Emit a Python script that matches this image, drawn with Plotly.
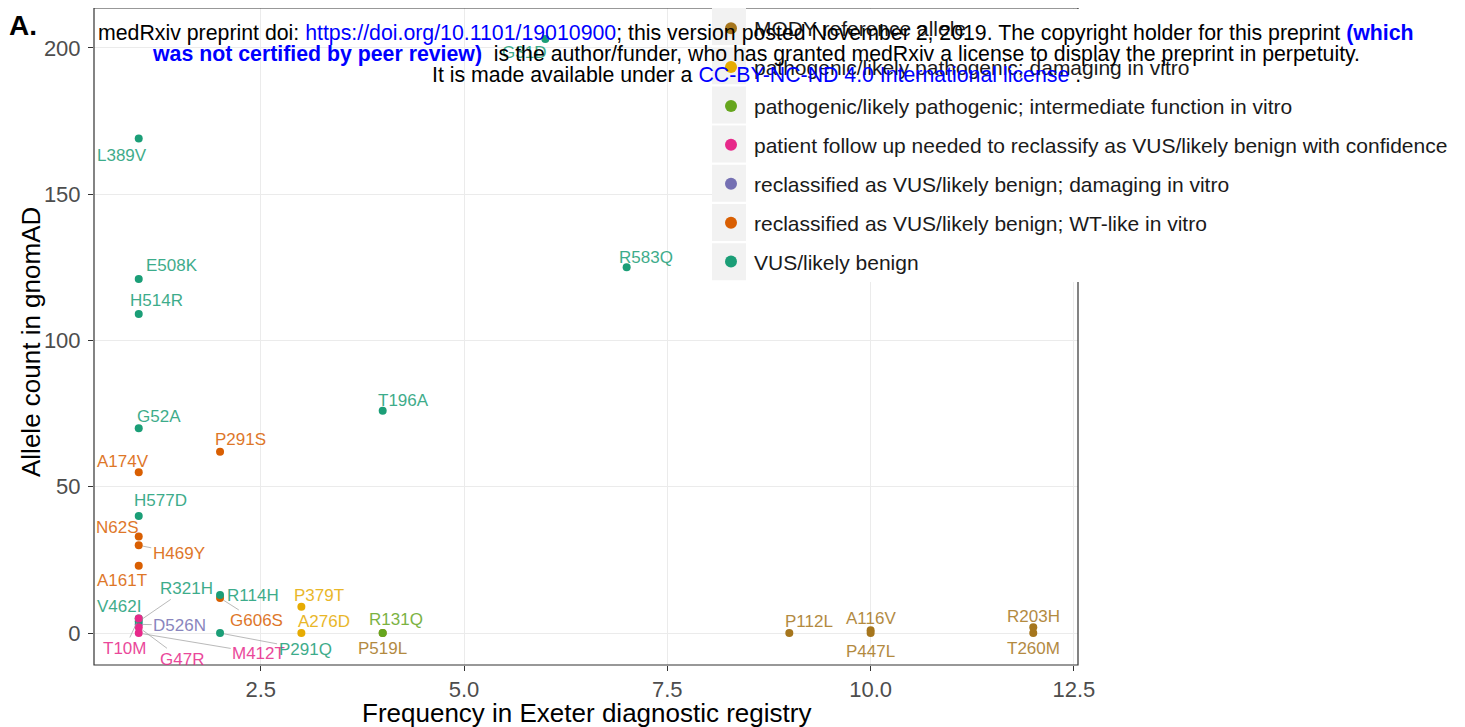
import plotly.graph_objects as go

# ---------------- data ----------------
variants = ["L389V", "E508K", "H514R", "G52A", "A174V", "P291S", "T196A", "R583Q", "G31D",
            "H577D", "N62S", "H469Y", "A161T", "R321H", "V462I", "D526N", "T10M", "G47R",
            "M412T", "P291Q", "G606S", "R114H", "P379T", "A276D", "R131Q", "P519L",
            "P112L", "A116V", "P447L", "R203H", "T260M"]
registry_freq = [1, 1, 1, 1, 1, 2, 4, 7, 6,
                 1, 1, 1, 1, 1, 1, 1, 1, 1,
                 1, 2, 2, 2, 3, 3, 4, 4,
                 9, 10, 10, 12, 12]
gnomad_count = [169, 121, 109, 70, 55, 62, 76, 125, 203,
                40, 33, 30, 23, 4, 5, 3, 5, 2,
                0, 0, 12, 13, 9, 0, 0, 0,
                0, 1, 0, 2, 0]
category = ["VUS", "VUS", "VUS", "VUS", "WT", "WT", "VUS", "VUS", "VUS",
            "VUS", "WT", "WT", "WT", "VUS", "VUS", "RDMG", "PFU", "PFU",
            "PFU", "VUS", "WT", "VUS", "DMG", "DMG", "INT", "MODY",
            "MODY", "MODY", "MODY", "MODY", "MODY"]

category_keys = ["MODY", "DMG", "INT", "PFU", "RDMG", "WT", "VUS"]
category_names = ["MODY reference allele",
                  "pathogenic/likely pathogenic; damaging in vitro",
                  "pathogenic/likely pathogenic; intermediate function in vitro",
                  "patient follow up needed to reclassify as VUS/likely benign with confidence",
                  "reclassified as VUS/likely benign; damaging in vitro",
                  "reclassified as VUS/likely benign; WT-like in vitro",
                  "VUS/likely benign"]

x_ticks = [2.5, 5.0, 7.5, 10.0, 12.5]
x_tick_labels = ["2.5", "5.0", "7.5", "10.0", "12.5"]
y_ticks = [0, 50, 100, 150, 200]

# ---------------- styles ----------------
colors = {"MODY": "#A6761D", "DMG": "#E6AB02", "INT": "#66A61E", "PFU": "#E7298A",
          "RDMG": "#7570B3", "WT": "#D95F02", "VUS": "#1B9E77"}
draw_order = ["MODY", "DMG", "INT", "RDMG", "WT", "VUS", "PFU"]

# label offsets in screen pixels (dx right, dy down) and whether a segment is drawn
label_offsets = {
    "L389V": (-17, 17, False), "E508K": (33, -13, False), "H514R": (18, -14, False),
    "G52A": (20, -12, False), "A174V": (-16, -11, False), "P291S": (20, -12, False),
    "T196A": (21, -10, False), "R583Q": (19, -10, False), "G31D": (-21, 13, False),
    "H577D": (22, -16, False), "N62S": (-21, -9, False), "H469Y": (40, 8, True),
    "A161T": (-17, 15, False), "R321H": (48, -33, True), "V462I": (-20, -12, False),
    "D526N": (41, 1, True), "T10M": (-14, 30, True), "G47R": (43, 32, True),
    "M412T": (120, 20, True), "P291Q": (85, 16, True), "G606S": (36, 23, True),
    "R114H": (33, 0, False), "P379T": (18, -11, False), "A276D": (23, -12, False),
    "R131Q": (13, -14, False), "P519L": (0, 15, False), "P112L": (20, -12, False),
    "A116V": (0, -12, False), "P447L": (0, 18, False), "R203H": (0, -11, False),
    "T260M": (0, 15, False),
}

FONT = "Liberation Sans, Arial, sans-serif"
OFF = 8                       # page body margin of the written html
FIG_W, FIG_H = 1465 - OFF, 727 - OFF
L_PAGE, T_PAGE, W, H = 94, 8, 984, 657   # panel box in page pixels
L, T = L_PAGE - OFF, T_PAGE - OFF


def px(xp):
    return (xp - OFF - L) / W


def py(yp):
    return 1 - (yp - OFF - T) / H


fig = go.Figure()

for key in draw_order:
    idx = [i for i, c in enumerate(category) if c == key]
    fig.add_trace(go.Scatter(
        x=[registry_freq[i] for i in idx],
        y=[gnomad_count[i] for i in idx],
        mode="markers",
        name=category_names[category_keys.index(key)],
        legendrank=category_keys.index(key) + 1,
        legendgroup=key,
        marker=dict(color=colors[key], size=8),
        hoverinfo="text",
        text=[variants[i] for i in idx],
    ))

annotations = []
for v, xv, yv, c in zip(variants, registry_freq, gnomad_count, category):
    dx, dy, seg = label_offsets[v]
    base = dict(x=xv, y=yv, xref="x", yref="y", text=v,
                font=dict(family=FONT, size=17, color=colors[c]), opacity=0.85)
    if seg:
        base.update(showarrow=True, ax=dx, ay=dy, arrowhead=0, arrowwidth=0.8,
                    arrowcolor="#999999", standoff=4)
    else:
        base.update(showarrow=False, xshift=dx, yshift=-dy)
    annotations.append(base)

# panel label
annotations.append(dict(xref="paper", yref="paper", x=px(7), y=py(25), xanchor="left", yanchor="middle",
                        text="<b>A.</b>", showarrow=False,
                        font=dict(family=FONT, size=28, color="black")))

# axis titles
annotations.append(dict(xref="paper", yref="paper", x=px(586), y=py(713), xanchor="center", yanchor="middle",
                        text="Frequency in Exeter diagnostic registry", showarrow=False,
                        font=dict(family=FONT, size=26, color="black")))
annotations.append(dict(xref="paper", yref="paper", x=px(31), y=py(342), xanchor="center", yanchor="middle",
                        text="Allele count in gnomAD", textangle=-90, showarrow=False,
                        font=dict(family=FONT, size=26, color="black")))

# medRxiv watermark
blue = "#0000FF"
wm_lines = [
    "medRxiv preprint doi: <span style='color:%s'>https://doi.org/10.1101/19010900</span>; this version posted November 2, 2019. The copyright holder for this preprint <b><span style='color:%s'>(which</span></b>" % (blue, blue),
    "<b><span style='color:%s'>was not certified by peer review)</span></b>  is the author/funder, who has granted medRxiv a license to display the preprint in perpetuity." % blue,
    "It is made available under a <span style='color:%s'>CC-BY-NC-ND 4.0 International license</span> ." % blue,
]
wm_y = [33, 54, 75]
for line, yy in zip(wm_lines, wm_y):
    annotations.append(dict(xref="paper", yref="paper", x=px(756), y=py(yy),
                            xanchor="center", yanchor="middle", text=line, showarrow=False,
                            font=dict(family=FONT, size=21.3, color="black")))

shapes = [
    # panel border
    dict(type="rect", xref="paper", yref="paper", x0=0, x1=1, y0=0, y1=1,
         line=dict(color="#333333", width=1.2), fillcolor="rgba(0,0,0,0)", layer="above"),
    # legend background covering panel
    dict(type="rect", xref="paper", yref="paper", x0=px(712), x1=px(1465),
         y0=py(282), y1=py(9), line=dict(width=0), fillcolor="white", layer="above"),
]
# grey key boxes
for k in range(7):
    top = 8 + k * 39.2
    shapes.append(dict(type="rect", xref="paper", yref="paper",
                       x0=px(712), x1=px(746), y0=py(top + 37), y1=py(top),
                       line=dict(width=0), fillcolor="#F2F2F2", layer="above"))

fig.update_layout(
    width=FIG_W, height=FIG_H,
    margin=dict(l=L, r=FIG_W - L - W, t=T, b=FIG_H - T - H, autoexpand=False),
    paper_bgcolor="white", plot_bgcolor="white",
    font=dict(family=FONT, color="black"),
    showlegend=True,
    legend=dict(x=px(708), y=py(8), xanchor="left", yanchor="top",
                bgcolor="rgba(0,0,0,0)", font=dict(family=FONT, size=21.0, color="#1A1A1A"),
                tracegroupgap=8.6, itemsizing="constant", itemwidth=36),
    xaxis=dict(range=[0.45, 12.55], tickvals=x_ticks, ticktext=x_tick_labels,
               showgrid=True, gridcolor="#EBEBEB", zeroline=False, automargin=False,
               ticks="outside", ticklen=5, tickcolor="#333333",
               tickfont=dict(family=FONT, size=22, color="#4D4D4D"),
               showline=False),
    yaxis=dict(range=[-10.9, 213.6], tickvals=y_ticks,
               showgrid=True, gridcolor="#EBEBEB", zeroline=False, automargin=False,
               ticks="outside", ticklen=5, tickcolor="#333333", ticklabelstandoff=3,
               tickfont=dict(family=FONT, size=22, color="#4D4D4D"),
               showline=False),
    annotations=annotations,
    shapes=shapes,
)

fig.write_html("out.html")
